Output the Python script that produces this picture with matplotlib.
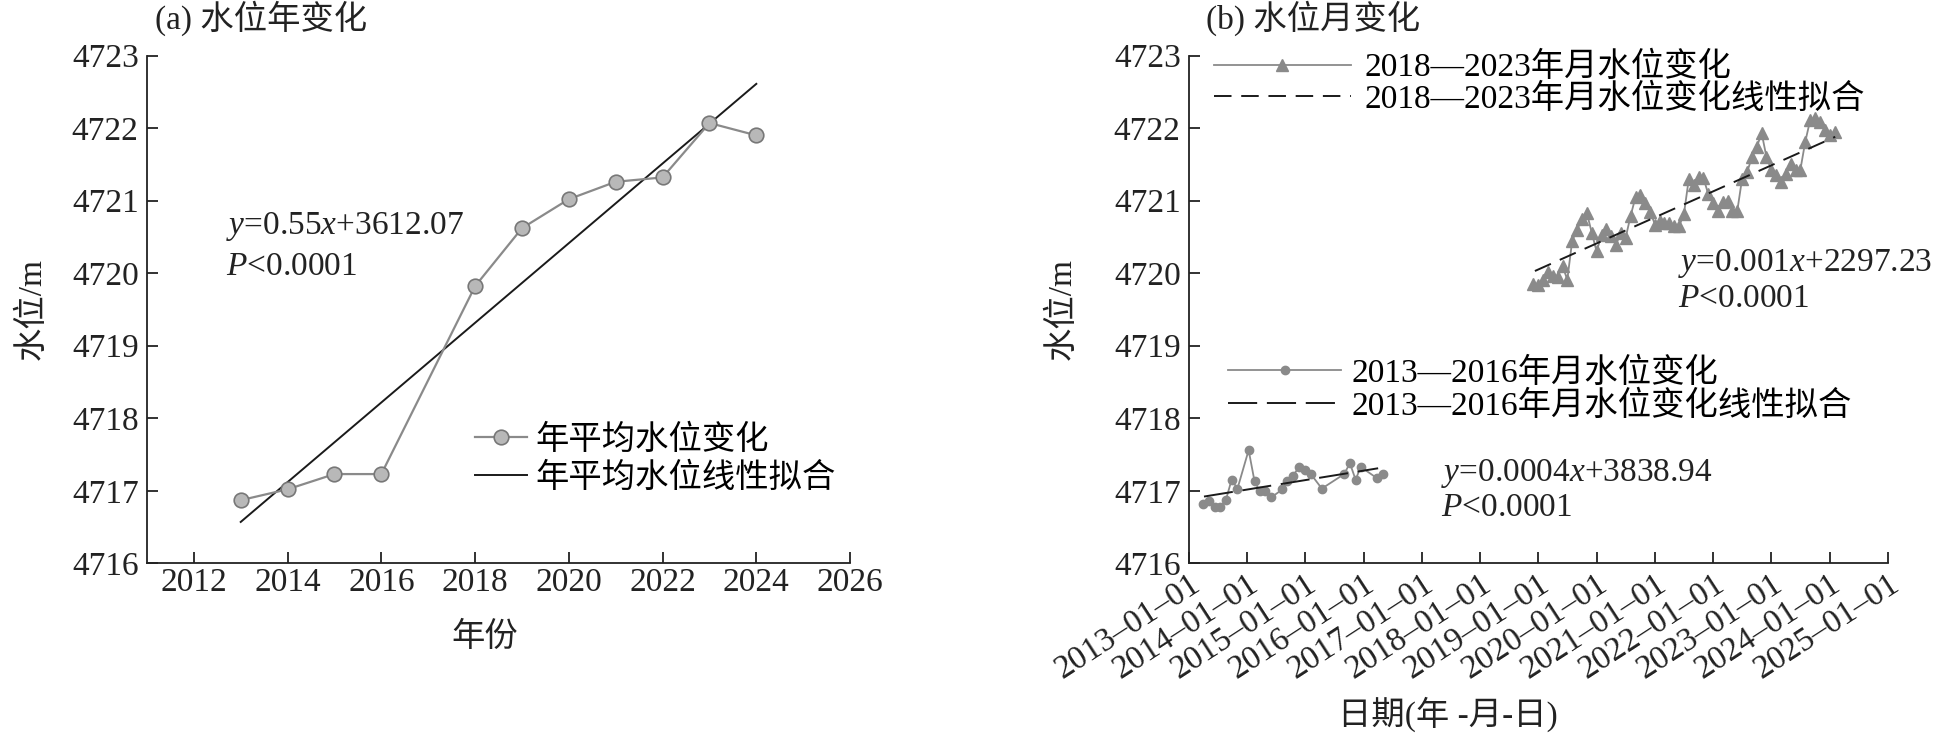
import numpy as np
import pandas as pd
import matplotlib
matplotlib.use("Agg")
import matplotlib.pyplot as plt
import matplotlib.dates as mdates

plt.rcParams['font.family'] = ['Liberation Serif', 'Noto Sans CJK SC']
plt.rcParams['mathtext.fontset'] = 'custom'
plt.rcParams['mathtext.rm'] = 'Liberation Serif'
plt.rcParams['mathtext.it'] = 'Liberation Serif:italic'
plt.rcParams['font.size'] = 24
plt.rcParams['axes.unicode_minus'] = False

TXT = '#222222'
GRAY = '#8a8a8a'

# (a) 年平均水位
years = [2013, 2014, 2015, 2016, 2018, 2019, 2020, 2021, 2022, 2023, 2024]
year_level = [4716.87, 4717.02, 4717.23, 4717.23, 4719.82, 4720.62, 4721.02,
              4721.26, 4721.32, 4722.07, 4721.90]
fit_a_x = [2013, 2024]
fit_a_y = [4716.57, 4722.61]

# (b) 2013—2016 月水位
dates_1316 = ['2013-04-01', '2013-05-08', '2013-06-13', '2013-07-14', '2013-08-20',
              '2013-09-25', '2013-11-01', '2014-01-10', '2014-02-16', '2014-03-20',
              '2014-04-25', '2014-06-02', '2014-08-10', '2014-09-10', '2014-10-16',
              '2014-11-23', '2014-12-28', '2015-02-04', '2015-04-14', '2015-09-01',
              '2015-10-07', '2015-11-12', '2015-12-13', '2016-03-27', '2016-05-04']
level_1316 = [4716.82, 4716.86, 4716.77, 4716.77, 4716.87, 4717.15, 4717.03, 4717.56,
              4717.13, 4717.00, 4717.00, 4716.91, 4717.02, 4717.13, 4717.21, 4717.33,
              4717.29, 4717.23, 4717.03, 4717.23, 4717.38, 4717.15, 4717.33, 4717.17,
              4717.23]
fit_1316_x = ['2013-04-05', '2016-04-01']
fit_1316_y = [4716.92, 4717.31]

# (b) 2018—2023 月水位
dates_1823 = ['2018-12-01', '2019-01-01', '2019-02-01', '2019-03-01', '2019-04-01',
              '2019-05-01', '2019-06-01', '2019-07-01', '2019-08-01', '2019-09-01',
              '2019-10-01', '2019-11-01', '2019-12-01', '2020-01-01', '2020-02-01',
              '2020-03-01', '2020-04-01', '2020-05-01', '2020-06-01', '2020-07-01',
              '2020-08-01', '2020-09-01', '2020-10-01', '2020-11-01', '2020-12-01',
              '2021-01-01', '2021-02-01', '2021-03-01', '2021-04-01', '2021-05-01',
              '2021-06-01', '2021-07-01', '2021-08-01', '2021-09-01', '2021-10-01',
              '2021-11-01', '2021-12-01', '2022-01-01', '2022-02-01', '2022-03-01',
              '2022-04-01', '2022-05-01', '2022-06-01', '2022-07-01', '2022-08-01',
              '2022-09-01', '2022-10-01', '2022-11-01', '2022-12-01', '2023-01-01',
              '2023-02-01', '2023-03-01', '2023-04-01', '2023-05-01', '2023-06-01',
              '2023-07-01', '2023-08-01', '2023-09-01', '2023-10-01', '2023-11-01',
              '2023-12-01', '2024-01-01', '2024-02-01']
level_1823 = [4719.85, 4719.83, 4719.91, 4720.02, 4719.96, 4719.95, 4720.10, 4719.91,
              4720.45, 4720.60, 4720.75, 4720.83, 4720.56, 4720.30, 4720.53, 4720.61,
              4720.51, 4720.39, 4720.56, 4720.49, 4720.79, 4721.05, 4721.08, 4720.97,
              4720.85, 4720.67, 4720.72, 4720.69, 4720.69, 4720.65, 4720.65, 4720.81,
              4721.30, 4721.21, 4721.32, 4721.31, 4721.09, 4720.97, 4720.86, 4720.98,
              4721.00, 4720.86, 4720.86, 4721.30, 4721.39, 4721.60, 4721.74, 4721.93,
              4721.60, 4721.42, 4721.35, 4721.26, 4721.37, 4721.51, 4721.42, 4721.42,
              4721.81, 4722.11, 4722.14, 4722.09, 4721.97, 4721.90, 4721.95]
fit_1823_x = ['2018-12-10', '2024-02-05']
fit_1823_y = [4720.03, 4721.88]

fig = plt.figure(figsize=(19.39, 7.40), dpi=100)
ax1 = fig.add_axes([0.0758, 0.2388, 0.3626, 0.6861])
ax2 = fig.add_axes([0.6132, 0.2388, 0.3605, 0.6861])

for ax in (ax1, ax2):
    for s in ('top', 'right'):
        ax.spines[s].set_visible(False)
    for s in ('left', 'bottom'):
        ax.spines[s].set_linewidth(1.3)
        ax.spines[s].set_color(TXT)
    ax.tick_params(direction='in', length=8, width=1.3, colors=TXT, labelsize=24)
    ax.set_ylim(4716, 4723)
    ax.set_yticks(range(4716, 4724))
    ax.tick_params(axis='y', pad=6)

# ---------- (a)
ax1.plot(years, year_level, color=GRAY, lw=1.6, marker='o', ms=10.5,
         mfc='#b8b8b8', mec='#777777', mew=1.2, label='年平均水位变化', zorder=3)
ax1.plot(fit_a_x, fit_a_y, color='#1a1a1a', lw=1.4, label='年平均水位线性拟合', zorder=2)
ax1.set_xlim(2011, 2026)
ax1.set_xticks(range(2012, 2027, 2))
ax1.tick_params(axis='x', pad=3)
ax1.set_ylabel('水位/m', color=TXT)
ax1.yaxis.set_label_coords(-0.141, 0.5)
ax1.set_xlabel('年份', color=TXT)
ax1.xaxis.set_label_coords(0.48, -0.115)
ax1.legend(loc='upper left', bbox_to_anchor=(0.467, 0.274), frameon=False, borderpad=0,
           borderaxespad=0, handlelength=1.56, handletextpad=0.25, labelspacing=0.2,
           fontsize=24)
ax1.text(0.112, 0.664, r'$y$=0.55$x$+3612.07', transform=ax1.transAxes, va='center', color=TXT)
ax1.text(0.112, 0.584, r'$P$<0.0001', transform=ax1.transAxes, va='center', color=TXT)

# ---------- (b)
l1, = ax2.plot(pd.to_datetime(dates_1823), level_1823, color=GRAY, lw=1.3, marker='^',
               ms=8, mfc=GRAY, mec=GRAY, label='2018—2023年月水位变化', zorder=3)
l2, = ax2.plot(pd.to_datetime(fit_1823_x), fit_1823_y, color='#1a1a1a', lw=1.4,
               dashes=(9, 5), label='2018—2023年月水位变化线性拟合', zorder=4)
l3, = ax2.plot(pd.to_datetime(dates_1316), level_1316, color=GRAY, lw=1.3, marker='o',
               ms=6, mfc=GRAY, mec=GRAY, label='2013—2016年月水位变化', zorder=3)
l4, = ax2.plot(pd.to_datetime(fit_1316_x), fit_1316_y, color='#1a1a1a', lw=1.4,
               dashes=(15, 5), label='2013—2016年月水位变化线性拟合', zorder=4)
ax2.set_xlim(pd.Timestamp('2013-01-01'), pd.Timestamp('2025-01-01'))
ax2.xaxis.set_major_locator(mdates.YearLocator())
ax2.xaxis.set_major_formatter(mdates.DateFormatter('%Y–%m–%d'))
ax2.tick_params(axis='x', pad=4)
for lab in ax2.get_xticklabels():
    lab.set_rotation(33)
    lab.set_ha('right')
    lab.set_rotation_mode('anchor')
ax2.set_ylabel('水位/m', color=TXT)
ax2.yaxis.set_label_coords(-0.159, 0.5)
ax2.set_xlabel('日期(年 -月-日)', color=TXT)
ax2.xaxis.set_label_coords(0.37, -0.263)

leg1 = ax2.legend(handles=[l1, l2], loc='upper left', bbox_to_anchor=(0.036, 1.007),
                  frameon=False, borderpad=0, borderaxespad=0, handlelength=4.1,
                  handletextpad=0.4, labelspacing=0.0, fontsize=24)
ax2.add_artist(leg1)
ax2.legend(handles=[l3, l4], loc='upper left', bbox_to_anchor=(0.056, 0.405),
           frameon=False, borderpad=0, borderaxespad=0, handlelength=3.4,
           handletextpad=0.3, labelspacing=0.05, fontsize=24)

ax2.text(0.70, 0.591, r'$y$=0.001$x$+2297.23', transform=ax2.transAxes, va='center', color=TXT)
ax2.text(0.70, 0.521, r'$P$<0.0001', transform=ax2.transAxes, va='center', color=TXT)
ax2.text(0.36, 0.176, r'$y$=0.0004$x$+3838.94', transform=ax2.transAxes, va='center', color=TXT)
ax2.text(0.36, 0.109, r'$P$<0.0001', transform=ax2.transAxes, va='center', color=TXT)

fig.text(155 / 1939, 1 - 18.5 / 740, '(a) 水位年变化', va='center', ha='left', color=TXT)
fig.text(1206 / 1939, 1 - 18.5 / 740, '(b) 水位月变化', va='center', ha='left', color=TXT)

fig.savefig('out.png', dpi=100)
